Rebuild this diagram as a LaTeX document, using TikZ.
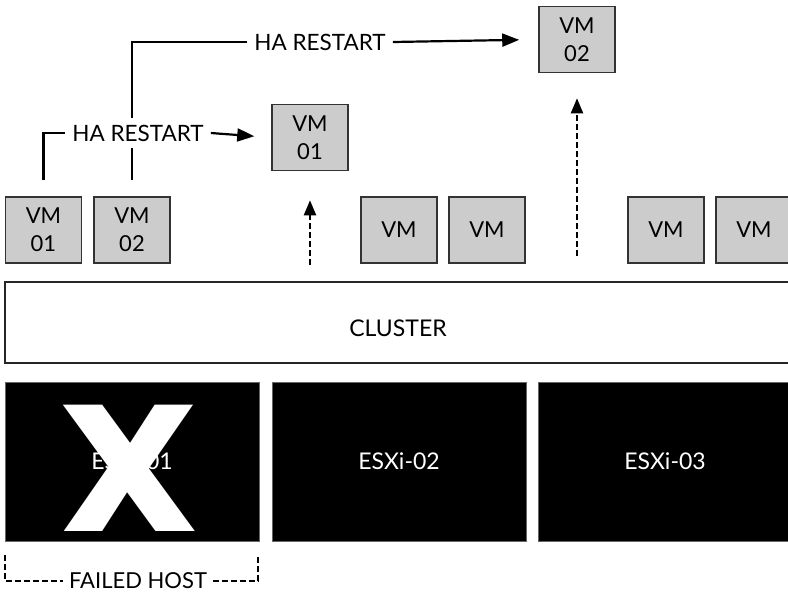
\documentclass[tikz,border=0pt]{standalone}
\usepackage{fontspec}
\setmainfont{Lato}
\newfontfamily\xfont{Poppins}
\usetikzlibrary{arrows.meta,calc}
\begin{document}
\begin{tikzpicture}[x=1pt,y=-1pt,
  vmbox/.style={draw=black!80,fill=black!20,line width=1.6pt,minimum width=76pt,minimum height=66pt,inner sep=0pt,align=center,font=\fontsize{22}{28}\selectfont},
  host/.style={fill=black,draw=black!60,line width=0.5pt,minimum width=254pt,minimum height=159pt,inner sep=0pt,text=white,font=\fontsize{23}{26}\selectfont},
  lbl/.style={inner sep=7pt,font=\fontsize{22.5}{26}\selectfont},
  conn/.style={line width=2.2pt},
  arr/.style={line width=2.2pt,-{Triangle[length=17pt,width=13pt]}},
  darr/.style={line width=2.2pt,dash pattern=on 6pt off 3pt,-{Triangle[length=15pt,width=12pt]}},
  bracket/.style={line width=1.6pt,dash pattern=on 6pt off 3pt}]
\useasboundingbox (0,0) rectangle (788,595);
\fill[white] (0,0) rectangle (788,595);
% VMs
\node[vmbox] (vm1) at (43.5,230) {VM\\01};
\node[vmbox] (vm2) at (132,230) {VM\\02};
\node[vmbox] (r1) at (310,137.5) {VM\\01};
\node[vmbox] (r2) at (577,39.5) {VM\\02};
\node[vmbox] (m1) at (399,230) {VM};
\node[vmbox] (m2) at (487,230) {VM};
\node[vmbox] (n1) at (666,230) {VM};
\node[vmbox] (n2) at (754,230) {VM};
% cluster
\node[draw=black!85,line width=2.2pt,minimum width=800pt,minimum height=81pt,inner sep=0pt] (cl) at (405,322.5) {};
\node[font=\fontsize{23}{26}\selectfont] (cltext) at (398,328) {CLUSTER};
% hosts
\node[host] (e1) at (132,461.5) {ESXi-01};
\node[host] (e2) at (399,461.5) {ESXi-02};
\node[host] (e3) at (665,461.5) {ESXi-03};
\node[text=white,font=\xfont\fontsize{180}{180}\selectfont\bfseries,inner sep=0pt,xscale=1.1] (xmark) at (129,468) {X};
% HA restart labels
\node[lbl] (ha1) at (138,133) {HA RESTART};
\node[lbl] (ha2) at (320,42) {HA RESTART};
\coordinate (s1) at ($(vm1.north)+(0,-16)$);
\coordinate (s2) at ($(vm2.north)+(0,-16)$);
\draw[conn] (s1) |- (ha1.west);
\draw[arr,shorten >=17pt] (ha1.east) -- (r1.west);
\draw[conn] (s2) -- (s2 |- ha1.south);
\draw[conn] (ha1.north -| vm2) |- (ha2.west);
\draw[arr,shorten >=19pt] (ha2.east) -- (r2.west);
% dashed arrows
\coordinate (d1) at (310,265);
\coordinate (d2) at (577,256);
\draw[darr,shorten >=29pt] (d1) -- (r1.south);
\draw[darr,shorten >=25pt] (d2) -- (r2.south);
% failed host bracket
\node[font=\fontsize{22}{26}\selectfont,inner sep=6pt] (fh) at (138,581) {FAILED HOST};
\coordinate (b1) at ($(e1.south west)+(0,14)$);
\coordinate (b2) at ($(e1.south east)+(-1,14)$);
\draw[bracket] (b1) |- (fh.west);
\draw[bracket] (fh.east) -| (b2);
\end{tikzpicture}
\end{document}
